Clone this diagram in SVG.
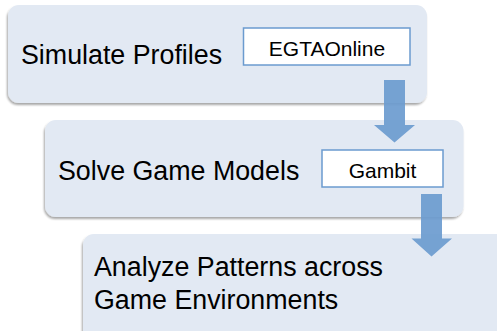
<svg xmlns="http://www.w3.org/2000/svg" width="497" height="331" viewBox="0 0 497 331">
<defs>
<filter id="sh" x="-5%" y="-5%" width="110%" height="115%">
<feGaussianBlur in="SourceAlpha" stdDeviation="1"/>
<feOffset dx="-1" dy="2" result="b"/>
<feComponentTransfer><feFuncA type="linear" slope="0.35"/></feComponentTransfer>
<feMerge><feMergeNode/><feMergeNode in="SourceGraphic"/></feMerge>
</filter>
</defs>
<style>
.box{fill:#e2e9f3;filter:url(#sh)}
.tool{fill:#ffffff;stroke:#6b9bcf;stroke-width:1.5}
.lbl{font-family:"Liberation Sans",Arial,sans-serif;font-size:26.8px;fill:#000}
.tlbl{font-family:"Liberation Sans",Arial,sans-serif;font-size:21px;fill:#000;text-anchor:middle}
.arr{fill:#6b9bcf;fill-opacity:0.92}
</style>
<g id="node-simulate">
<rect class="box" x="8" y="5" width="419" height="98" rx="11"/>
<text class="lbl" x="21" y="64">Simulate Profiles</text>
</g>
<g id="node-egtaonline">
<rect class="tool" x="243.5" y="28" width="166.5" height="37"/>
<text class="tlbl" x="327" y="55.5">EGTAOnline</text>
</g>
<g id="node-solve">
<rect class="box" x="45" y="120" width="418.5" height="97" rx="11"/>
<text class="lbl" x="58" y="180">Solve Game Models</text>
</g>
<g id="node-gambit">
<rect class="tool" x="322" y="150" width="121" height="37"/>
<text class="tlbl" x="382.5" y="178">Gambit</text>
</g>
<g id="node-analyze">
<rect class="box" x="83" y="234" width="430" height="110" rx="11"/>
<text class="lbl" x="94" y="276">Analyze Patterns across</text>
<text class="lbl" x="94" y="309">Game Environments</text>
</g>
<g id="connectors">
<polygon class="arr" points="384,80 405,80 405,125 415,125 394.5,142.5 374,125 384,125"/>
<polygon class="arr" points="421,194 442,194 442,238.5 452,238.5 431.5,256.5 411.5,238.5 421,238.5"/>
</g>
</svg>
